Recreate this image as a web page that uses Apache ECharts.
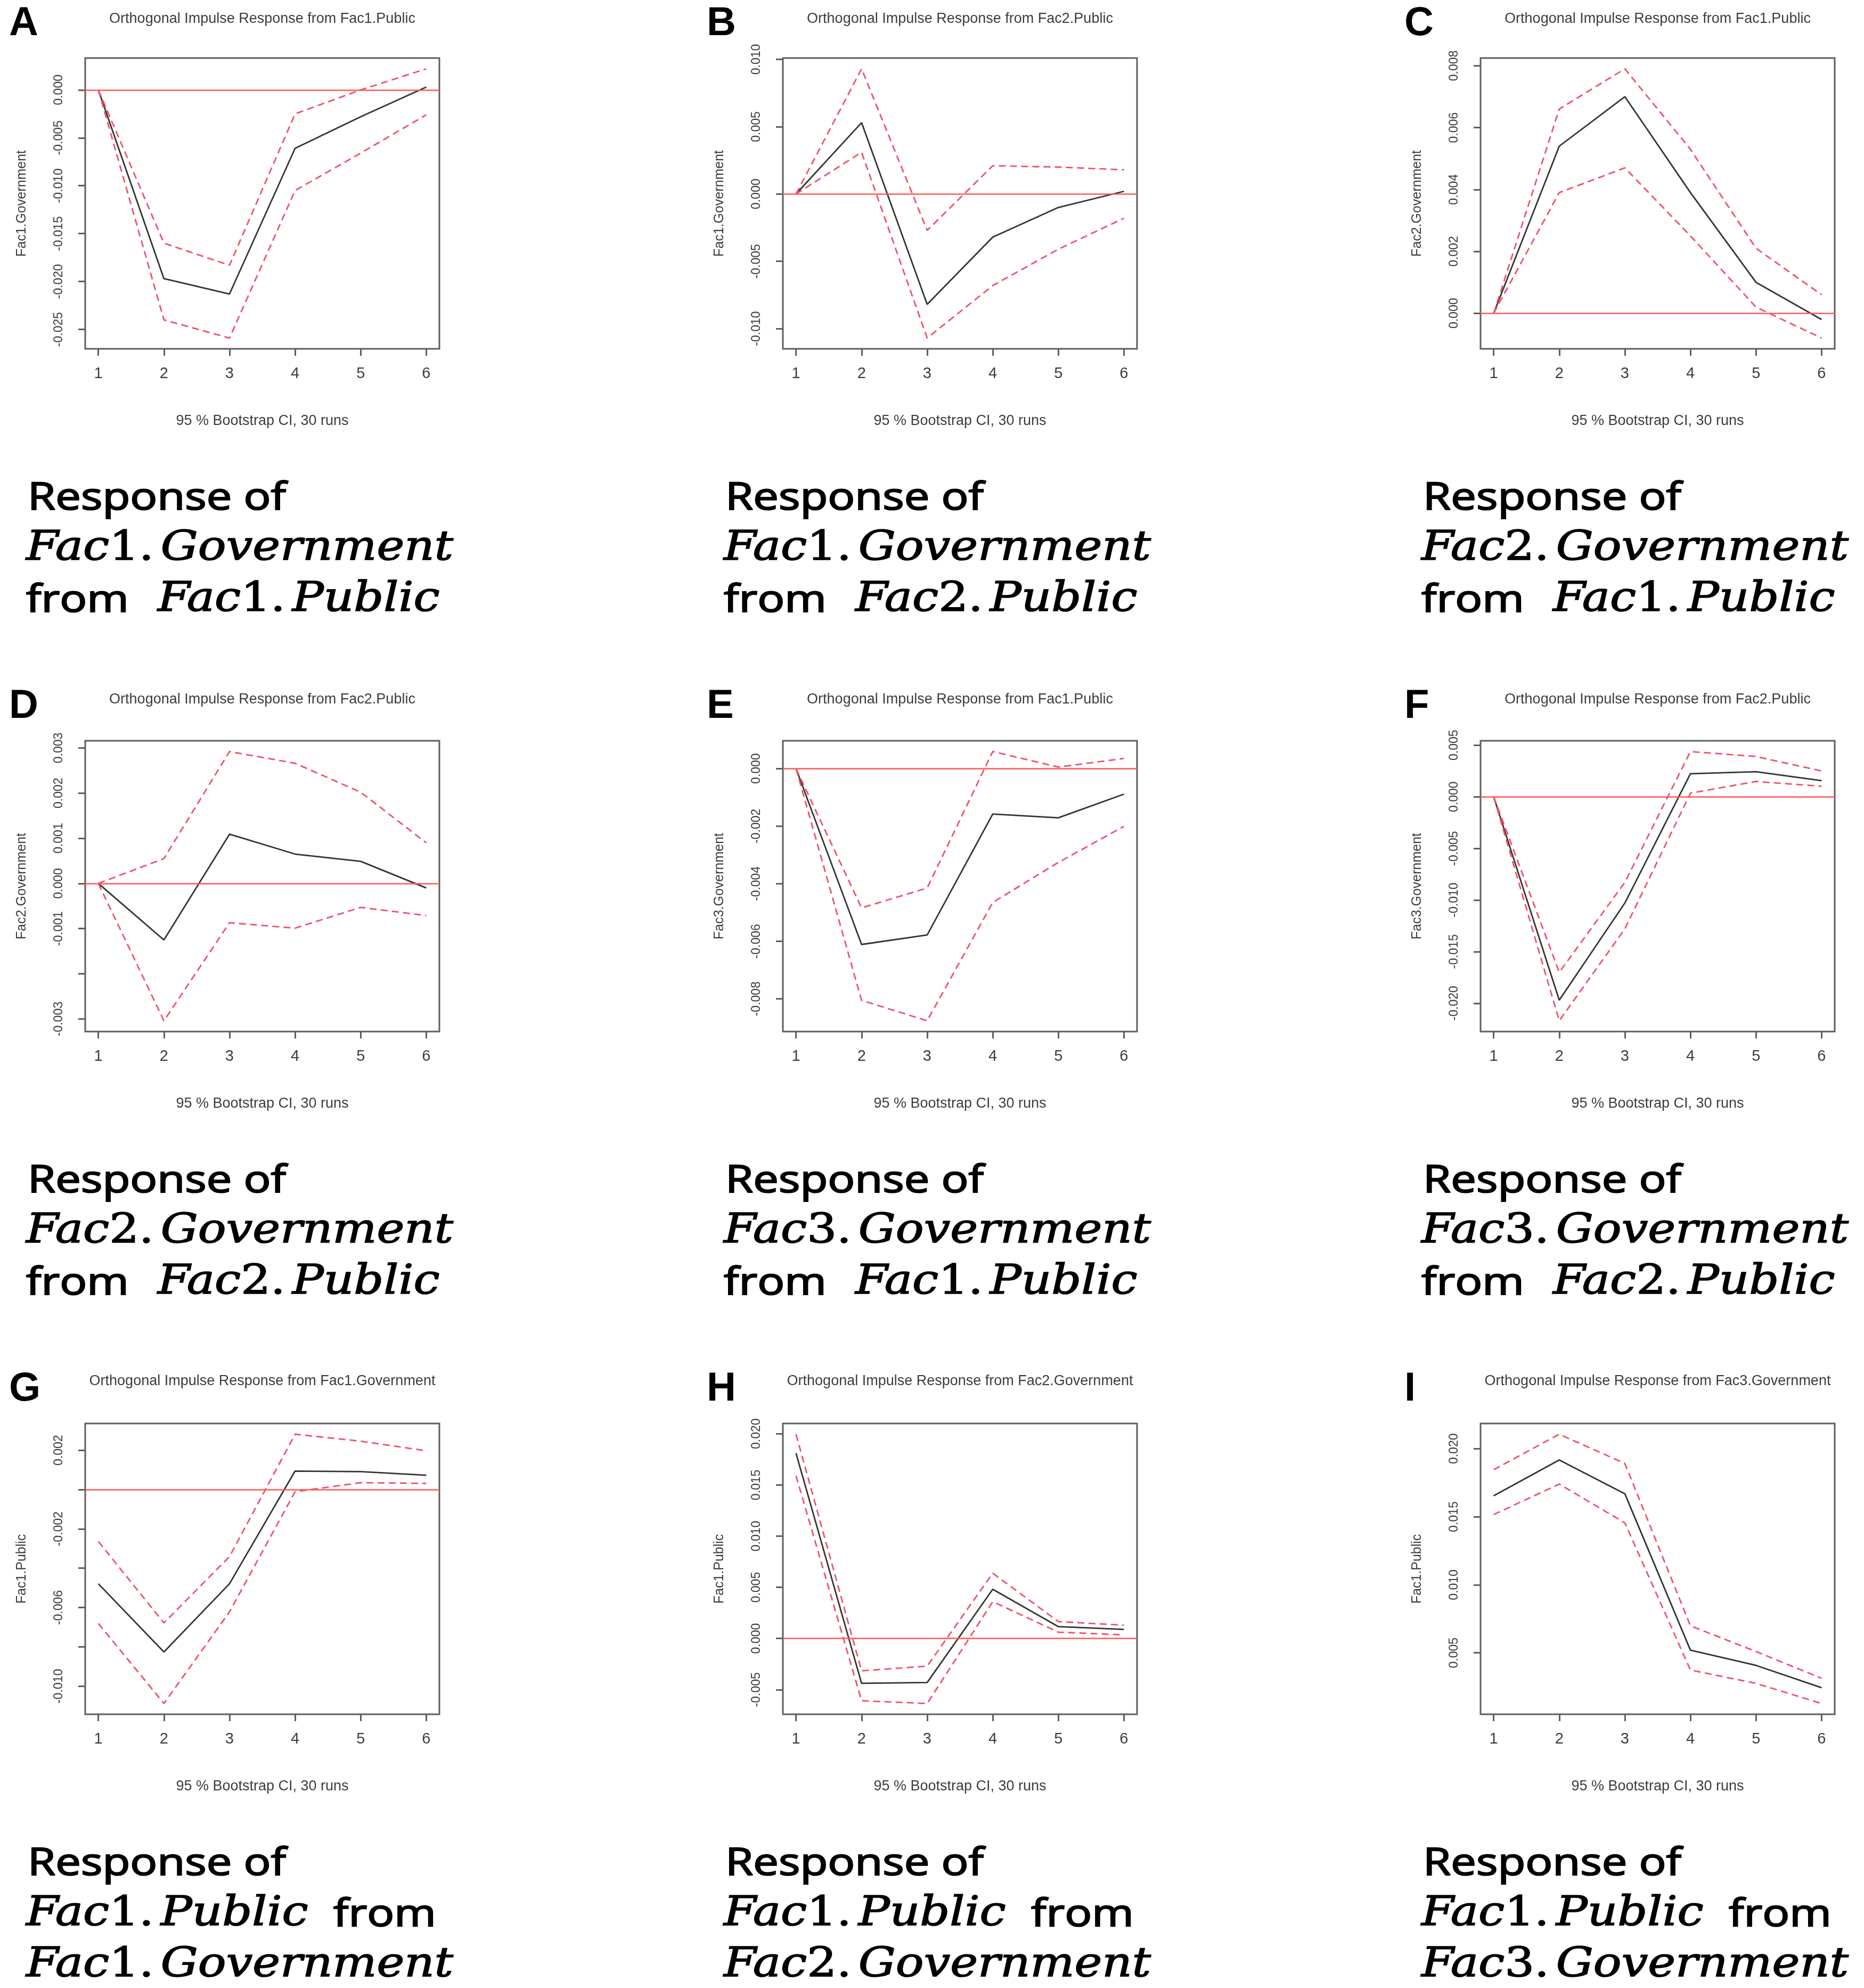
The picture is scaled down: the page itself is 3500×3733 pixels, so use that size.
<!DOCTYPE html>
<html>
<head>
<meta charset="utf-8">
<title>Orthogonal impulse responses</title>
<script src="https://cdn.jsdelivr.net/npm/echarts@6.0.0/dist/echarts.min.js"></script>
<style>
  html, body { margin: 0; padding: 0; background: #fff; }
  #chart { width: 3500px; height: 3733px; }
</style>
</head>
<body>
<div id="chart"></div>
<script>
// horizon (x axis) shared by every panel
const steps = [1, 2, 3, 4, 5, 6];

// A: Fac1.Government <- Fac1.Public
const aIrf = [0, -0.0197, -0.0213, -0.0061, -0.0028, 0.0003];
const aUpper = [0, -0.0160, -0.0183, -0.0025, 0.0000, 0.0022];
const aLower = [0, -0.0240, -0.0259, -0.0105, -0.0066, -0.0026];
const aTicks = [-0.025, -0.020, -0.015, -0.010, -0.005, 0];

// B: Fac1.Government <- Fac2.Public
const bIrf = [0, 0.0053, -0.0082, -0.0032, -0.0010, 0.0002];
const bUpper = [0, 0.0093, -0.0027, 0.0021, 0.0020, 0.0018];
const bLower = [0, 0.0031, -0.0107, -0.0068, -0.0041, -0.0018];
const bTicks = [-0.010, -0.005, 0, 0.005, 0.010];

// C: Fac2.Government <- Fac1.Public
const cIrf = [0, 0.0054, 0.0070, 0.0039, 0.0010, -0.0002];
const cUpper = [0, 0.0066, 0.0079, 0.0053, 0.0021, 0.0006];
const cLower = [0, 0.0039, 0.0047, 0.0025, 0.0002, -0.0008];
const cTicks = [0, 0.002, 0.004, 0.006, 0.008];

// D: Fac2.Government <- Fac2.Public
const dIrf = [0, -0.00125, 0.00109, 0.00065, 0.00049, -0.0001];
const dUpper = [0, 0.00055, 0.00292, 0.00266, 0.00202, 0.0009];
const dLower = [0, -0.00304, -0.00087, -0.00099, -0.00053, -0.00071];
const dTicks = [-0.003, -0.002, -0.001, 0, 0.001, 0.002, 0.003];
const dLabels = [-0.003, -0.001, 0, 0.001, 0.002, 0.003];

// E: Fac3.Government <- Fac1.Public
const eIrf = [0, -0.00611, -0.00578, -0.00158, -0.00171, -0.00089];
const eUpper = [0, -0.00484, -0.00415, 0.00059, 0.00005, 0.00035];
const eLower = [0, -0.00805, -0.00876, -0.00465, -0.00326, -0.00201];
const eTicks = [-0.008, -0.006, -0.004, -0.002, 0];

// F: Fac3.Government <- Fac2.Public
const fIrf = [0, -0.0197, -0.0103, 0.00223, 0.00242, 0.00156];
const fUpper = [0, -0.0170, -0.0083, 0.00438, 0.0039, 0.0025];
const fLower = [0, -0.0217, -0.0128, 0.00035, 0.00148, 0.00102];
const fTicks = [-0.020, -0.015, -0.010, -0.005, 0, 0.005];

// G: Fac1.Public <- Fac1.Government
const gIrf = [-0.00479, -0.00826, -0.00479, 0.00094, 0.00091, 0.00073];
const gUpper = [-0.00264, -0.00678, -0.00341, 0.00281, 0.00246, 0.00197];
const gLower = [-0.00681, -0.01088, -0.00622, -0.00011, 0.00035, 0.00031];
const gTicks = [-0.010, -0.008, -0.006, -0.004, -0.002, 0, 0.002];
const gLabels = [-0.010, -0.006, -0.002, 0.002];

// H: Fac1.Public <- Fac2.Government
const hIrf = [0.01811, -0.00438, -0.0043, 0.00481, 0.00116, 0.00089];
const hUpper = [0.01995, -0.00316, -0.0027, 0.00638, 0.00165, 0.0013];
const hLower = [0.0159, -0.00608, -0.00635, 0.0036, 0.00062, 0.00035];
const hTicks = [-0.005, 0, 0.005, 0.010, 0.015, 0.020];

// I: Fac1.Public <- Fac3.Government
const iIrf = [0.01654, 0.01917, 0.01669, 0.0052, 0.00408, 0.00244];
const iUpper = [0.01846, 0.02106, 0.01892, 0.00699, 0.0051, 0.00313];
const iLower = [0.01516, 0.0174, 0.01455, 0.00374, 0.00276, 0.00128];
const iTicks = [0.005, 0.010, 0.015, 0.020];

const panels = [
  { tag: 'A', impulse: 'Fac1.Public', response: 'Fac1.Government', irf: aIrf, upper: aUpper, lower: aLower, ticks: aTicks },
  { tag: 'B', impulse: 'Fac2.Public', response: 'Fac1.Government', irf: bIrf, upper: bUpper, lower: bLower, ticks: bTicks },
  { tag: 'C', impulse: 'Fac1.Public', response: 'Fac2.Government', irf: cIrf, upper: cUpper, lower: cLower, ticks: cTicks },
  { tag: 'D', impulse: 'Fac2.Public', response: 'Fac2.Government', irf: dIrf, upper: dUpper, lower: dLower, ticks: dTicks, labels: dLabels },
  { tag: 'E', impulse: 'Fac1.Public', response: 'Fac3.Government', irf: eIrf, upper: eUpper, lower: eLower, ticks: eTicks },
  { tag: 'F', impulse: 'Fac2.Public', response: 'Fac3.Government', irf: fIrf, upper: fUpper, lower: fLower, ticks: fTicks },
  { tag: 'G', impulse: 'Fac1.Government', response: 'Fac1.Public', irf: gIrf, upper: gUpper, lower: gLower, ticks: gTicks, labels: gLabels },
  { tag: 'H', impulse: 'Fac2.Government', response: 'Fac1.Public', irf: hIrf, upper: hUpper, lower: hLower, ticks: hTicks },
  { tag: 'I', impulse: 'Fac3.Government', response: 'Fac1.Public', irf: iIrf, upper: iUpper, lower: iLower, ticks: iTicks }
];

// layout (px)
const COL_X = [0, 1310, 2620];
const ROW_Y = [0, 1282, 2564];
const TITLE_DY = [36, 32, 30];
const BOX = { left: 160, top: 109, width: 665, height: 546 };
const CAP_BASE = [962, 1058, 1154];

const PLOT_FONT = '"Liberation Sans", Arial, sans-serif';
const CAP_FONT = '"Open Sans", sans-serif';
const MATH_FONT = '"DejaVu Serif", serif';
const CAP_SIZE = 71;
const MATH_SIZE = 77;
const GREY = '#5e5e5e';
const INK = '#3c3c3c';
const RED = '#f0506a';

// text measuring, used to stretch the captions to the reference width
const ctx = document.createElement('canvas').getContext('2d');
function textW(str, font) { ctx.font = font; return ctx.measureText(str).width; }

const MATH_RICH = {
  it: { fontFamily: MATH_FONT, fontStyle: 'italic', fontSize: MATH_SIZE },
  up: { fontFamily: MATH_FONT, fontSize: MATH_SIZE },
  sp: { fontFamily: MATH_FONT, fontSize: 36 }
};

// letters italic, digits and the dot upright (like an equation editor)
function mathRuns(str) {
  return str.match(/[A-Za-z]+|[0-9.]+/g).map(r => ({ r, it: /[A-Za-z]/.test(r) }));
}
function mathText(str) {
  return mathRuns(str).map(o => o.it ? '{it|' + o.r + '}' : '{up|' + o.r + '}{sp| }').join('');
}
function mathWidth(str) {
  let w = 0;
  mathRuns(str).forEach(o => {
    if (o.it) w += textW(o.r, 'italic ' + MATH_SIZE + 'px ' + MATH_FONT);
    else w += textW(o.r, MATH_SIZE + 'px ' + MATH_FONT) + textW(' ', '36px ' + MATH_FONT);
  });
  return w;
}

const kSans = 485 / textW('Response of', CAP_SIZE + 'px ' + CAP_FONT);
const kMath = 802 / mathWidth('Fac1.Government');

// a thin stroke thickens the glyphs to the weight of the reference captions
function sansEl(x, y, str) {
  return {
    type: 'text', x, y, scaleX: kSans, silent: true,
    style: { text: str, fontFamily: CAP_FONT, fontSize: CAP_SIZE, fill: '#000',
      stroke: '#000', lineWidth: 2.2, verticalAlign: 'middle' }
  };
}
function mathEl(x, y, str) {
  return {
    type: 'text', x, y, scaleX: kMath, silent: true,
    style: { text: mathText(str), rich: MATH_RICH, fontFamily: MATH_FONT, fontSize: MATH_SIZE, fill: '#000',
      stroke: '#000', lineWidth: 1.6, verticalAlign: 'middle' }
  };
}

// R style y limits: data range plus 4% each side
function rLimits(...arrs) {
  const all = [].concat(...arrs);
  const lo = Math.min(...all), hi = Math.max(...all);
  const pad = (hi - lo) * 0.04;
  return [lo - pad, hi + pad];
}
const fmt = v => (Math.abs(v) < 1e-9 ? 0 : v).toFixed(3);

const grids = [], xAxes = [], yAxes = [], series = [], graphics = [];

panels.forEach((p, i) => {
  const col = i % 3, row = Math.floor(i / 3);
  const X0 = COL_X[col], Y0 = ROW_Y[row];
  const [ymin, ymax] = rLimits(p.irf, p.upper, p.lower);

  grids.push({
    left: X0 + BOX.left, top: Y0 + BOX.top, width: BOX.width, height: BOX.height,
    show: true, borderColor: GREY, borderWidth: 3, backgroundColor: 'transparent',
    containLabel: false, outerBoundsMode: 'none'
  });

  xAxes.push({
    gridIndex: i, type: 'value', min: 0.8, max: 6.2,
    axisLine: { show: false, onZero: false },
    splitLine: { show: false },
    axisTick: { show: true, length: 13, lineStyle: { color: GREY, width: 3 }, customValues: steps },
    axisLabel: { customValues: steps, margin: 32, fontSize: 29, color: INK, fontFamily: PLOT_FONT, formatter: v => String(v) },
    name: '95 % Bootstrap CI, 30 runs', nameLocation: 'middle', nameGap: 122,
    nameTextStyle: { fontSize: 27, color: INK, fontFamily: PLOT_FONT }
  });

  yAxes.push({
    gridIndex: i, type: 'value', min: ymin, max: ymax,
    axisLine: { show: false, onZero: false },
    splitLine: { show: false },
    axisTick: { show: true, length: 13, lineStyle: { color: GREY, width: 3 }, customValues: p.ticks },
    axisLabel: { customValues: p.labels || p.ticks, rotate: 90, margin: 38, fontSize: 23, color: INK, fontFamily: PLOT_FONT, formatter: fmt },
    name: p.response, nameLocation: 'middle', nameGap: 106, nameRotate: 90,
    nameTextStyle: { fontSize: 25, color: INK, fontFamily: PLOT_FONT }
  });

  const pts = arr => steps.map((s, k) => [s, arr[k]]);
  const base = { type: 'line', xAxisIndex: i, yAxisIndex: i, showSymbol: false, symbol: 'none', silent: true };

  const irfSeries = Object.assign({}, base, {
    name: p.tag + ' irf', data: pts(p.irf), z: 3,
    lineStyle: { color: '#333', width: 2.8 }
  });
  if (ymin < 0 && ymax > 0) {
    irfSeries.markLine = {
      silent: true, symbol: ['none', 'none'], label: { show: false },
      lineStyle: { color: '#ff5757', width: 2.6, type: 'solid' },
      data: [{ yAxis: 0 }]
    };
  }
  series.push(irfSeries);
  series.push(Object.assign({}, base, {
    name: p.tag + ' upper', data: pts(p.upper), z: 4,
    lineStyle: { color: RED, width: 2.8, type: [13, 8] }
  }));
  series.push(Object.assign({}, base, {
    name: p.tag + ' lower', data: pts(p.lower), z: 4,
    lineStyle: { color: RED, width: 2.8, type: [13, 8] }
  }));

  // panel letter and plot title
  graphics.push({
    type: 'text', x: X0 + 17, y: Y0 + 45, silent: true,
    style: { text: p.tag, fontFamily: PLOT_FONT, fontWeight: 'bold', fontSize: 76, fill: '#000', verticalAlign: 'middle' }
  });
  graphics.push({
    type: 'text', x: X0 + BOX.left + BOX.width / 2, y: Y0 + TITLE_DY[row], silent: true,
    style: { text: 'Orthogonal Impulse Response from ' + p.impulse, fontFamily: PLOT_FONT, fontSize: 27,
      fill: INK, align: 'center', verticalAlign: 'middle' }
  });

  // caption under the plot
  const sy = b => Y0 + b - 25;
  const my = b => Y0 + b - 27;
  graphics.push(sansEl(X0 + 52, sy(CAP_BASE[0]), 'Response of'));
  if (row < 2) {
    graphics.push(mathEl(X0 + 49, my(CAP_BASE[1]), p.response));
    graphics.push(sansEl(X0 + 49, sy(CAP_BASE[2]), 'from'));
    graphics.push(mathEl(X0 + 296, my(CAP_BASE[2]), p.impulse));
  } else {
    graphics.push(mathEl(X0 + 49, my(CAP_BASE[1]), p.response));
    graphics.push(sansEl(X0 + 626, sy(CAP_BASE[1]), 'from'));
    graphics.push(mathEl(X0 + 49, my(CAP_BASE[2]), p.impulse));
  }
});

const chart = echarts.init(document.getElementById('chart'), null, { renderer: 'canvas' });
chart.setOption({
  backgroundColor: '#fff',
  animation: false,
  grid: grids,
  xAxis: xAxes,
  yAxis: yAxes,
  series: series,
  graphic: { elements: graphics }
});
</script>
</body>
</html>
